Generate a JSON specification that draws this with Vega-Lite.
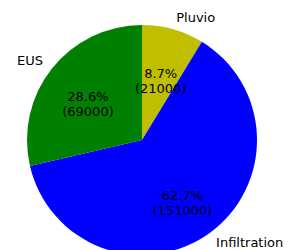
{
  "$schema": "https://vega.github.io/schema/vega-lite/v6.json",
  "autosize": {"type": "none"},
  "width": 230,
  "height": 230,
  "padding": {"left": 27, "top": 25, "right": 34, "bottom": 0},
  "background": "white",
  "config": {"view": {"stroke": null}, "text": {"font": "DejaVu Sans", "fontSize": 13}},
  "data": {
    "values": [
      {"name": "Pluvio", "value": 21000, "idx": 1, "lab": "8.7%\n(21000)"},
      {"name": "Infiltration", "value": 151000, "idx": 2, "lab": "62.7%\n(151000)"},
      {"name": "EUS", "value": 69000, "idx": 3, "lab": "28.6%\n(69000)"}
    ]
  },
  "encoding": {
    "theta": {"field": "value", "type": "quantitative", "stack": true},
    "order": {"field": "idx", "type": "ordinal"}
  },
  "layer": [
    {
      "mark": {"type": "arc"},
      "encoding": {
        "color": {
          "field": "name",
          "type": "nominal",
          "scale": {"domain": ["Pluvio", "Infiltration", "EUS"], "range": ["#bfbf00", "#0000ff", "#008000"]},
          "legend": null
        }
      }
    },
    {
      "mark": {"type": "text", "radius": 69, "lineBreak": "\n", "align": "center", "baseline": "middle", "color": "#000000"},
      "encoding": {"text": {"field": "lab"}}
    },
    {
      "mark": {"type": "text", "radius": 126.5, "align": "left", "baseline": "middle", "color": "#000000"},
      "encoding": {"text": {"condition": {"test": "datum.name !== 'EUS'", "field": "name"}, "value": ""}}
    },
    {
      "mark": {"type": "text", "radius": 126.5, "align": "right", "baseline": "middle", "color": "#000000"},
      "encoding": {"text": {"condition": {"test": "datum.name === 'EUS'", "field": "name"}, "value": ""}}
    }
  ]
}
